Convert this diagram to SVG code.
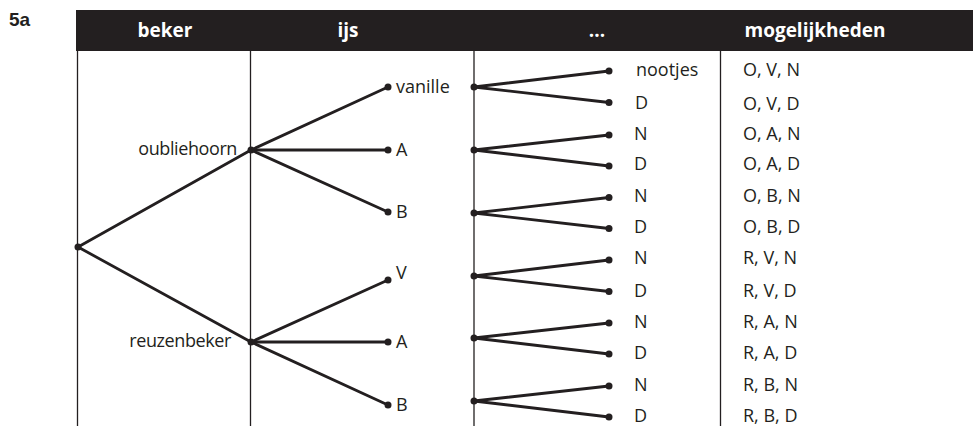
<svg xmlns="http://www.w3.org/2000/svg" width="973" height="426" viewBox="0 0 973 426">
<style>
.hd{font-family:"Open Sans","Liberation Sans",sans-serif;font-weight:bold;font-size:19px;fill:#fff;text-anchor:middle}
.t{font-family:"Open Sans","Liberation Sans",sans-serif;font-size:18px;fill:#231f20}
.e{text-anchor:end;letter-spacing:-0.4px}
.grid{stroke:#231f20;stroke-width:1.3;fill:none}
.br{stroke:#231f20;stroke-width:2.8;fill:none;stroke-linecap:round}
.dot{fill:#231f20}
</style>
<rect width="973" height="426" fill="#fff"/>
<text x="9" y="26" font-family="Liberation Sans, Arial, sans-serif" font-weight="bold" font-size="19" fill="#231f20">5a</text>
<g id="header">
<rect x="76" y="10" width="897" height="41" fill="#231f20"/>
<text class="hd" x="165" y="37">beker</text>
<text class="hd" x="348" y="37">ijs</text>
<text class="hd" x="597" y="37">...</text>
<text class="hd" x="815" y="37">mogelijkheden</text>
</g>
<g id="grid" class="grid">
<line x1="77.5" y1="51" x2="77.5" y2="426"/>
<line x1="250.5" y1="51" x2="250.5" y2="426"/>
<line x1="474" y1="51" x2="474" y2="426"/>
<line x1="720.5" y1="51" x2="720.5" y2="426"/>
</g>
<g id="connectors" class="br">
<line x1="78" y1="247" x2="251" y2="150"/>
<line x1="78" y1="247" x2="251" y2="342"/>
<line x1="251" y1="150" x2="388" y2="87"/>
<line x1="251" y1="150" x2="388" y2="150"/>
<line x1="251" y1="150" x2="388" y2="212"/>
<line x1="251" y1="342" x2="388" y2="280"/>
<line x1="251" y1="342" x2="388" y2="342"/>
<line x1="251" y1="342" x2="388" y2="405"/>
<line x1="474" y1="87" x2="609" y2="71"/>
<line x1="474" y1="87" x2="609" y2="102.5"/>
<line x1="474" y1="150" x2="609" y2="135"/>
<line x1="474" y1="150" x2="609" y2="166"/>
<line x1="474" y1="213" x2="609" y2="197.5"/>
<line x1="474" y1="213" x2="609" y2="228.5"/>
<line x1="474" y1="276" x2="609" y2="260"/>
<line x1="474" y1="276" x2="609" y2="291.5"/>
<line x1="474" y1="338" x2="609" y2="323"/>
<line x1="474" y1="338" x2="609" y2="354"/>
<line x1="474" y1="401" x2="609" y2="386"/>
<line x1="474" y1="401" x2="609" y2="417"/>
</g>
<g id="root"><circle class="dot" cx="78" cy="247" r="3.5"/></g>
<g id="oubliehoorn"><circle class="dot" cx="251" cy="150" r="3.5"/><text class="t e" x="237" y="155">oubliehoorn</text></g>
<g id="reuzenbeker"><circle class="dot" cx="251" cy="342" r="3.5"/><text class="t e" x="231" y="347">reuzenbeker</text></g>
<g id="o-vanille"><circle class="dot" cx="388" cy="87" r="3.5"/><text class="t" x="396" y="93">vanille</text></g>
<g id="o-A"><circle class="dot" cx="388" cy="150" r="3.5"/><text class="t" x="396" y="155.5">A</text></g>
<g id="o-B"><circle class="dot" cx="388" cy="212" r="3.5"/><text class="t" x="396" y="218">B</text></g>
<g id="r-V"><circle class="dot" cx="388" cy="280" r="3.5"/><text class="t" x="396" y="279">V</text></g>
<g id="r-A"><circle class="dot" cx="388" cy="342" r="3.5"/><text class="t" x="396" y="348">A</text></g>
<g id="r-B"><circle class="dot" cx="388" cy="405" r="3.5"/><text class="t" x="396" y="411">B</text></g>
<g id="n1"><circle class="dot" cx="474" cy="87" r="3.5"/></g>
<g id="n2"><circle class="dot" cx="474" cy="150" r="3.5"/></g>
<g id="n3"><circle class="dot" cx="474" cy="213" r="3.5"/></g>
<g id="n4"><circle class="dot" cx="474" cy="276" r="3.5"/></g>
<g id="n5"><circle class="dot" cx="474" cy="338" r="3.5"/></g>
<g id="n6"><circle class="dot" cx="474" cy="401" r="3.5"/></g>
<g id="l1"><circle class="dot" cx="609" cy="71" r="3.5"/><text class="t" x="636" y="76">nootjes</text><text class="t" x="743" y="76">O, V, N</text></g>
<g id="l2"><circle class="dot" cx="609" cy="102.5" r="3.5"/><text class="t" x="635" y="109">D</text><text class="t" x="743" y="110">O, V, D</text></g>
<g id="l3"><circle class="dot" cx="609" cy="135" r="3.5"/><text class="t" x="634" y="139.5">N</text><text class="t" x="743" y="139.5">O, A, N</text></g>
<g id="l4"><circle class="dot" cx="609" cy="166" r="3.5"/><text class="t" x="634" y="170">D</text><text class="t" x="743" y="170">O, A, D</text></g>
<g id="l5"><circle class="dot" cx="609" cy="197.5" r="3.5"/><text class="t" x="634" y="202">N</text><text class="t" x="743" y="202">O, B, N</text></g>
<g id="l6"><circle class="dot" cx="609" cy="228.5" r="3.5"/><text class="t" x="634" y="233">D</text><text class="t" x="743" y="233">O, B, D</text></g>
<g id="l7"><circle class="dot" cx="609" cy="260" r="3.5"/><text class="t" x="634" y="264">N</text><text class="t" x="743" y="264">R, V, N</text></g>
<g id="l8"><circle class="dot" cx="609" cy="291.5" r="3.5"/><text class="t" x="634" y="296.5">D</text><text class="t" x="743" y="296.5">R, V, D</text></g>
<g id="l9"><circle class="dot" cx="609" cy="323" r="3.5"/><text class="t" x="634" y="328">N</text><text class="t" x="743" y="328">R, A, N</text></g>
<g id="l10"><circle class="dot" cx="609" cy="354" r="3.5"/><text class="t" x="634" y="359">D</text><text class="t" x="743" y="359">R, A, D</text></g>
<g id="l11"><circle class="dot" cx="609" cy="386" r="3.5"/><text class="t" x="634" y="390.5">N</text><text class="t" x="743" y="390.5">R, B, N</text></g>
<g id="l12"><circle class="dot" cx="609" cy="417" r="3.5"/><text class="t" x="634" y="421.5">D</text><text class="t" x="743" y="421.5">R, B, D</text></g>
</svg>
